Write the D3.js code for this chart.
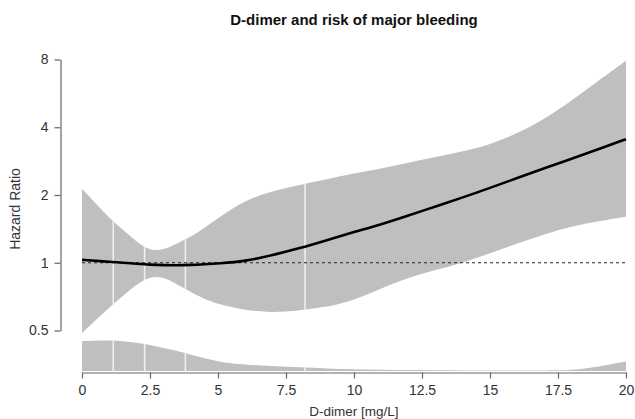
<!DOCTYPE html>
<html>
<head>
<meta charset="utf-8">
<script src="https://cdn.jsdelivr.net/npm/d3@7"></script>
<style>
  body { margin: 0; background: #fff; }
  svg text { font-family: "Liberation Sans", Arial, sans-serif; fill: #333; }
</style>
</head>
<body>
<div id="chart"></div>
<script>
// spline estimate of hazard ratio vs D-dimer
var ddimer = [0, 0.5, 1, 1.5, 2, 2.5, 3, 3.5, 4, 4.5, 5, 6, 7, 8, 9, 10, 11, 12, 13, 14, 15, 16, 17, 18, 19, 20];
var hr     = [1.03, 1.02, 1.01, 1.0, 0.99, 0.98, 0.975, 0.975, 0.978, 0.985, 0.993, 1.015, 1.08, 1.16, 1.26, 1.37, 1.48, 1.62, 1.78, 1.95, 2.15, 2.38, 2.63, 2.9, 3.2, 3.54];
var lower  = [0.486, 0.555, 0.632, 0.713, 0.80, 0.87, 0.865, 0.80, 0.74, 0.69, 0.655, 0.615, 0.60, 0.615, 0.635, 0.68, 0.77, 0.86, 0.93, 1.0, 1.1, 1.22, 1.34, 1.45, 1.53, 1.6];
var upper  = [2.13, 1.84, 1.58, 1.40, 1.24, 1.13, 1.14, 1.22, 1.30, 1.43, 1.58, 1.9, 2.08, 2.22, 2.35, 2.5, 2.62, 2.78, 2.95, 3.12, 3.35, 3.75, 4.35, 5.25, 6.45, 7.9];

// distribution of D-dimer (density)
var densX = [0, 0.5, 1, 1.5, 2, 2.5, 3, 3.5, 4, 4.5, 5, 5.5, 6, 7, 8, 9, 10, 11, 12, 13, 14, 15, 16, 17, 17.5, 18, 18.5, 19, 19.5, 20];
var densY = [0.100, 0.101, 0.102, 0.100, 0.095, 0.087, 0.077, 0.067, 0.054, 0.042, 0.032, 0.025, 0.021, 0.017, 0.012, 0.0085, 0.006, 0.0043, 0.0033, 0.0027, 0.002, 0.0017, 0.0014, 0.0017, 0.002, 0.004, 0.008, 0.015, 0.023, 0.032];

// knot positions
var knots = [1.15, 2.3, 3.8, 8.2];

var xTicks = [0, 2.5, 5, 7.5, 10, 12.5, 15, 17.5, 20];
var yTicks = [0.5, 1, 2, 4, 8];

var width = 635, height = 419;

var svg = d3.select("#chart").append("svg")
    .attr("width", width)
    .attr("height", height);

var x = d3.scaleLinear().domain([0, 20]).range([82, 626]);
var y = d3.scaleLog().base(2).domain([0.5, 8]).range([330.5, 59.5]);
var yd = d3.scaleLinear().domain([0, 0.1]).range([371, 341]);

var pts = ddimer.map(function (d, i) {
  return { x: d, hr: hr[i], lo: lower[i], hi: upper[i] };
});
var dens = densX.map(function (d, i) { return { x: d, y: densY[i] }; });

var band = d3.area()
    .x(function (d) { return x(d.x); })
    .y0(function (d) { return y(d.lo); })
    .y1(function (d) { return y(d.hi); })
    .curve(d3.curveBasis);

var densArea = d3.area()
    .x(function (d) { return x(d.x); })
    .y0(yd(0))
    .y1(function (d) { return yd(d.y); })
    .curve(d3.curveBasis);

var line = d3.line()
    .x(function (d) { return x(d.x); })
    .y(function (d) { return y(d.hr); })
    .curve(d3.curveBasis);

svg.append("path").attr("d", band(pts)).attr("fill", "#bfbfbf");
svg.append("path").attr("d", densArea(dens)).attr("fill", "#bfbfbf");

// white knot lines, clipped to the grey shapes
var clip = svg.append("clipPath").attr("id", "greyclip");
clip.append("path").attr("d", band(pts));
clip.append("path").attr("d", densArea(dens));

svg.append("g").attr("clip-path", "url(#greyclip)")
  .selectAll("line")
  .data(knots)
  .enter()
  .append("line")
    .attr("x1", function (d) { return x(d); })
    .attr("x2", function (d) { return x(d); })
    .attr("y1", 40)
    .attr("y2", 380)
    .attr("stroke", "#f2f2f2")
    .attr("stroke-width", 1.5);

// reference line at HR = 1
svg.append("line")
    .attr("x1", x(0)).attr("x2", x(20))
    .attr("y1", y(1)).attr("y2", y(1))
    .attr("stroke", "#222")
    .attr("stroke-width", 1)
    .attr("stroke-dasharray", "3,3");

svg.append("path")
    .attr("d", line(pts))
    .attr("fill", "none")
    .attr("stroke", "#000")
    .attr("stroke-width", 2.6);

// axes
svg.append("g")
    .attr("transform", "translate(0,372.5)")
    .call(d3.axisBottom(x).tickValues(xTicks).tickFormat(d3.format("")).tickSize(6).tickSizeOuter(0).tickPadding(7));

svg.append("g")
    .attr("transform", "translate(60.5,0)")
    .call(d3.axisLeft(y).tickValues(yTicks).tickFormat(d3.format("")).tickSize(6).tickSizeOuter(0).tickPadding(6));

svg.selectAll(".domain, .tick line").attr("stroke", "#666").attr("stroke-width", 1.2);
svg.selectAll(".tick text").attr("font-size", 14).style("fill", "#333");

svg.append("text")
    .attr("x", 354).attr("y", 25)
    .attr("text-anchor", "middle")
    .attr("font-size", 15)
    .attr("font-weight", "bold")
    .style("fill", "#111")
    .text("D-dimer and risk of major bleeding");

svg.append("text")
    .attr("x", 354).attr("y", 416)
    .attr("text-anchor", "middle")
    .attr("font-size", 13.5)
    .text("D-dimer [mg/L]");

svg.append("text")
    .attr("transform", "translate(20,209) rotate(-90)")
    .attr("text-anchor", "middle")
    .attr("font-size", 14)
    .text("Hazard Ratio");
</script>
</body>
</html>
